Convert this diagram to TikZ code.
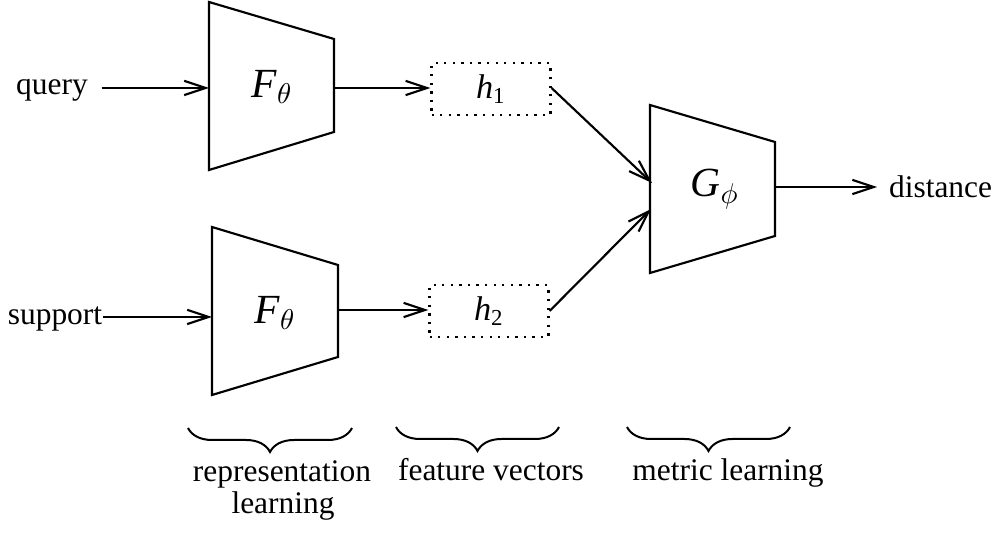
\documentclass[tikz,border=0pt]{standalone}
\usepackage{fontspec}
\setmainfont{Liberation Serif}
\usetikzlibrary{arrows.meta,decorations.pathreplacing}
\begin{document}
\begin{tikzpicture}[x=0.35pt,y=-0.35pt, line width=0.75pt,
  arr/.style={-{Straight Barb[length=7.5pt,width=5pt,line width=0.75pt]}},
  block/.style={draw, line width=0.75pt, line join=miter},
  feat/.style={draw, dash pattern=on 0.8pt off 2.2pt, line width=0.8pt,
    minimum width=41.6pt, minimum height=18pt, inner sep=0pt,
    font=\fontsize{12}{14}\selectfont},
  lbl/.style={inner sep=0pt, font=\fontsize{11}{13}\selectfont},
  mlbl/.style={inner sep=0pt, font=\fontsize{14.5}{16}\selectfont},
  bracefig/.style={decorate, decoration={brace, amplitude=8.4pt}, line width=0.7pt}
]
\useasboundingbox (0,0) rectangle (997,534);

% encoders
\draw[block] (209,2) -- (334,39) -- (334,132) -- (209,170) -- cycle;
\draw[block] (212,227) -- (338,265) -- (338,357) -- (212,395) -- cycle;
\draw[block] (650,105) -- (775,142) -- (775,236) -- (650,273) -- cycle;
\node[mlbl] (f1) at (272,87) {\textit{F}$_\theta$};
\node[mlbl] (f2) at (275,313) {\textit{F}$_\theta$};
\node[mlbl] (g) at (715,189) {\textit{G}$_\phi$};

\coordinate (f1in) at (209,88);
\coordinate (f1out) at (334,88);
\coordinate (f2in) at (212,317);
\coordinate (f2out) at (338,310);
\coordinate (gin1) at (652,183);
\coordinate (gin2) at (651,209);
\coordinate (gout) at (775,187);

% feature boxes
\node[feat] (h1) at (491,89) {\textit{h}\textsubscript{1}};
\node[feat] (h2) at (489,311) {\textit{h}\textsubscript{2}};

% inputs and output labels
\node[lbl, anchor=base] (query) at (52,95) {query};
\node[lbl, anchor=base] (support) at (55,325) {support};
\node[lbl, anchor=base west] (dist) at (888,198) {distance};

% connectors
\draw[arr, shorten <=4.5pt] (query.east |- f1in) -- (f1in);
\draw[arr] (support.east |- f2in) -- (f2in);
\draw[arr] (f1out) -- (h1.west |- f1out);
\draw[arr] (f2out) -- (h2.west |- f2out);
\draw[arr] (h1.east |- f1out) -- (gin1);
\draw[arr] (h2.east) -- (gin2);
\draw[arr, shorten >=3.8pt] (gout) -- (dist.west |- gout);

% braces
\draw[bracefig] (352,428) -- (188,428);
\draw[bracefig] (559,427) -- (396,427);
\draw[bracefig] (790,427) -- (627,427);

\node[lbl, anchor=base] (rep) at (282,482) {representation};
\node[lbl, anchor=base] (rep2) at (283,514) {learning};
\node[lbl, anchor=base] (fv) at (491,481) {feature vectors};
\node[lbl, anchor=base] (ml) at (728,481) {metric learning};
\end{tikzpicture}
\end{document}
